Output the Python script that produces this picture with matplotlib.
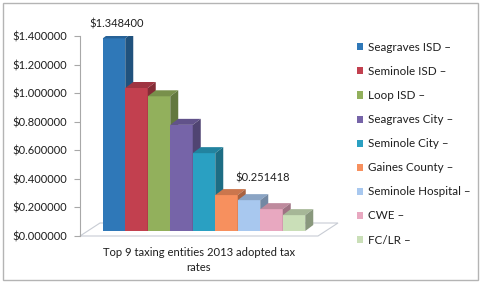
import matplotlib
matplotlib.use("Agg")
import matplotlib.pyplot as plt
from matplotlib.patches import Polygon, Rectangle, Patch
from matplotlib.colors import to_rgb

# data
entities = ["Seagraves ISD", "Seminole ISD", "Loop ISD", "Seagraves City",
            "Seminole City", "Gaines County", "Seminole Hospital", "CWE", "FC/LR"]
rates = [1.348400, 1.001, 0.943, 0.743, 0.545, 0.251418, 0.216, 0.153, 0.111]
labelled = {0: (3, 14), 5: (36, 17)}   # bar index -> label offset in pixels
colors = ["#2f78b8", "#c2404f", "#92b05c", "#7664a8", "#2aa0c2",
          "#f7905e", "#a8c8ef", "#e8a8c0", "#cadfb8"]
title = "Top 9 taxing entities 2013 adopted tax\nrates"

plt.rcParams["font.family"] = ["Lato", "DejaVu Sans"]
plt.rcParams["font.size"] = 8
txt = "#1e1e1e"

W, H = 482, 285
fig = plt.figure(figsize=(W / 100, H / 100), dpi=100)
ax = fig.add_axes([80 / W, 49 / H, 260 / W, 200 / H])

px_x = 22.5            # pixels per category
px_y = 200 / 1.4       # pixels per value unit
xmin = -(114 - 80) / px_x
ax.set_xlim(xmin, xmin + 260 / px_x)
ax.set_ylim(0, 1.4)

lift = 5 / px_y
ddx, ddy = 8 / px_x, 6 / px_y

def shade(c, f):
    r, g, b = to_rgb(c)
    return (r * f, g * f, b * f)

# floor
fdx, fdy = 20 / px_x, 13 / px_y
fx0, fx1 = xmin, xmin + 238 / px_x
ax.add_patch(Polygon([(fx0, 0), (fx1, 0), (fx1 + fdx, fdy), (fx0 + fdx, fdy)],
                     closed=True, fill=False, ec="#c8ccd4", lw=0.8, clip_on=False, zorder=1))

for i, (v, c) in enumerate(zip(rates, colors)):
    z = 2 + i
    bars = ax.bar(i, v, width=1.0, bottom=lift, color=c, lw=0, zorder=z)
    x0, x1 = i - 0.5, i + 0.5
    top = lift + v
    ax.add_patch(Polygon([(x0, top), (x1, top), (x1 + ddx, top + ddy), (x0 + ddx, top + ddy)],
                         closed=True, fc=shade(c, 0.82), lw=0, zorder=z))
    ax.add_patch(Polygon([(x1, lift), (x1 + ddx, lift + ddy), (x1 + ddx, top + ddy), (x1, top)],
                         closed=True, fc=shade(c, 0.68), lw=0, zorder=z))
    if i in labelled:
        ax.annotate("$%.6f" % v, xy=(i, top), xytext=labelled[i], textcoords="offset pixels",
                    ha="center", va="center", color=txt, fontsize=8, zorder=20)

for s in ["top", "right", "bottom"]:
    ax.spines[s].set_visible(False)
ax.spines["left"].set_color("#a8a8a8")
ax.set_xticks([])
yt = [0, 0.2, 0.4, 0.6, 0.8, 1.0, 1.2, 1.4]
ax.set_yticks(yt)
ax.set_yticklabels(["$%.6f" % t for t in yt])
ax.tick_params(axis="y", length=4, color="#a8a8a8", labelcolor=txt, labelsize=8, pad=5)

fig.text(199 / W, 25 / H, title, ha="center", va="center", color=txt, fontsize=8.1, linespacing=1.35)

handles = [Patch(fc=c, ec="none") for c in colors]
fig.legend(handles, [e + " \u2013" for e in entities], loc="upper left",
           bbox_to_anchor=(357 / W, 1 - 42 / H), frameon=False, fontsize=8.4,
           handlelength=0.55, handleheight=0.55, handletextpad=0.4,
           labelspacing=1.12, labelcolor=txt, borderaxespad=0, borderpad=0)

fig.add_artist(Rectangle((3 / W, 5 / H), 475 / W, 277 / H, transform=fig.transFigure,
                         fill=False, ec="#b4b4b4", lw=1))

fig.savefig("out.png", dpi=100)
